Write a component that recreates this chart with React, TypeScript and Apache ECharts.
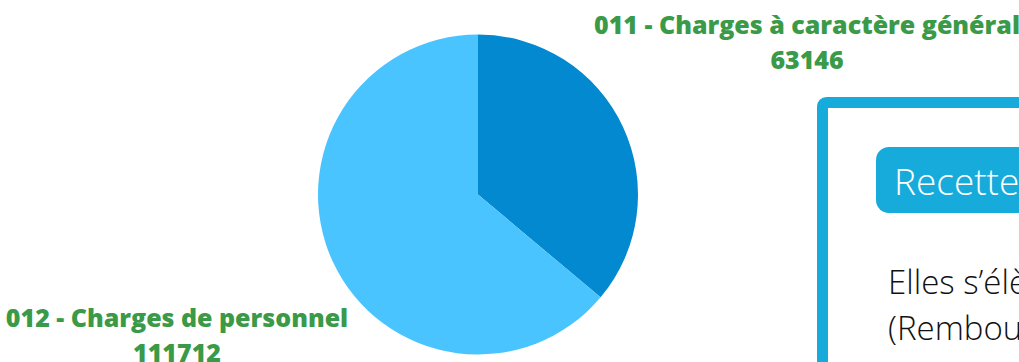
import React, { useEffect, useRef } from "react";
import * as echarts from "echarts";

const categories = ["011 - Charges à caractère général", "012 - Charges de personnel"];
const values = [63146, 111712];
const sliceColors = ["#0289CF", "#4AC4FE"];
const labelSpots = [
  [807, 41],
  [177, 334],
];

export default function App() {
  const ref = useRef<HTMLDivElement>(null);
  useEffect(() => {
    document.body.style.margin = "0";
    const chart = echarts.init(ref.current!, null, { renderer: "svg" });
    chart.setOption({
      animation: false,
      backgroundColor: "#ffffff",
      series: [
        {
          type: "pie",
          center: [478, 194.5],
          radius: 160,
          startAngle: 90,
          clockwise: true,
          data: categories.map((name, i) => ({
            name,
            value: values[i],
            itemStyle: { color: sliceColors[i] },
          })),
          label: {
            show: true,
            position: "outside",
            formatter: "{b}\n{c}",
            color: "#3A9A48",
            fontFamily: "Open Sans",
            fontWeight: 800,
            fontSize: 25,
            lineHeight: 35,
            align: "center",
            overflow: "none",
            width: 600,
          },
          labelLine: { show: false },
          labelLayout: (params: any) => ({
            x: labelSpots[params.dataIndex][0],
            y: labelSpots[params.dataIndex][1],
            align: "center",
            verticalAlign: "middle",
          }),
          emphasis: { disabled: true },
        },
      ],
      graphic: [
        {
          type: "rect",
          shape: { x: 822.5, y: 102.5, width: 400, height: 400, r: 4 },
          style: { fill: "#ffffff", stroke: "#16ABDB", lineWidth: 11 },
          z: -1,
        },
        {
          type: "rect",
          shape: { x: 876, y: 147, width: 300, height: 66, r: 13 },
          style: { fill: "#16ABDB" },
        },
        {
          type: "text",
          x: 894,
          y: 180,
          style: {
            text: "Recettes",
            fill: "#ffffff",
            fontSize: 37,
            fontFamily: "Open Sans",
            fontWeight: 300,
            verticalAlign: "middle",
            align: "left",
          },
        },
        {
          type: "text",
          x: 888,
          y: 281,
          style: {
            text: "Elles s’élèvent",
            fill: "#111111",
            fontSize: 33,
            fontFamily: "Open Sans",
            fontWeight: 300,
            verticalAlign: "middle",
            align: "left",
          },
        },
        {
          type: "text",
          x: 888,
          y: 327,
          style: {
            text: "(Remboursements",
            fill: "#111111",
            fontSize: 33,
            fontFamily: "Open Sans",
            fontWeight: 300,
            verticalAlign: "middle",
            align: "left",
          },
        },
      ],
    });
    return () => chart.dispose();
  }, []);
  return (
    <div
      ref={ref}
      style={{ position: "absolute", left: 0, top: 0, width: 1019, height: 362 }}
    />
  );
}
